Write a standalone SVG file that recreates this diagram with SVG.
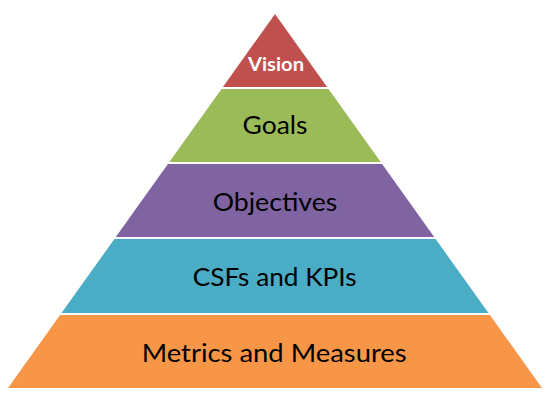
<svg xmlns="http://www.w3.org/2000/svg" width="550" height="404" viewBox="0 0 550 404">
<style>
.lbl{font-family:Lato,"Open Sans","Liberation Sans",sans-serif;font-size:25px;fill:#000;text-anchor:middle}
.top{font-size:19px;font-weight:bold;fill:#fff}
</style>
<rect width="550" height="404" fill="#fff"/>
<g id="vision">
<polygon points="275,14 327.1,87 222.9,87" fill="#c0504d"/>
<text class="lbl top" x="276" y="71" textLength="56" lengthAdjust="spacingAndGlyphs">Vision</text>
</g>
<g id="goals">
<polygon points="221.5,89 328.5,89 380.7,162 169.3,162" fill="#9bbb59"/>
<text class="lbl" x="275" y="134.3" textLength="65" lengthAdjust="spacingAndGlyphs">Goals</text>
</g>
<g id="objectives">
<polygon points="167.9,164 382.1,164 434.2,237 115.8,237" fill="#8064a2"/>
<text class="lbl" x="275" y="210.7" textLength="124.6" lengthAdjust="spacingAndGlyphs">Objectives</text>
</g>
<g id="csfs">
<polygon points="114.4,239 435.6,239 488.5,313 61.5,313" fill="#4bacc6"/>
<text class="lbl" x="274.7" y="286" textLength="164" lengthAdjust="spacingAndGlyphs">CSFs and KPIs</text>
</g>
<g id="metrics">
<polygon points="60.1,315 489.9,315 542,388 8,388" fill="#f79646"/>
<text class="lbl" x="274.2" y="361.7" textLength="265" lengthAdjust="spacingAndGlyphs">Metrics and Measures</text>
</g>
<g id="connectors"/>
</svg>
